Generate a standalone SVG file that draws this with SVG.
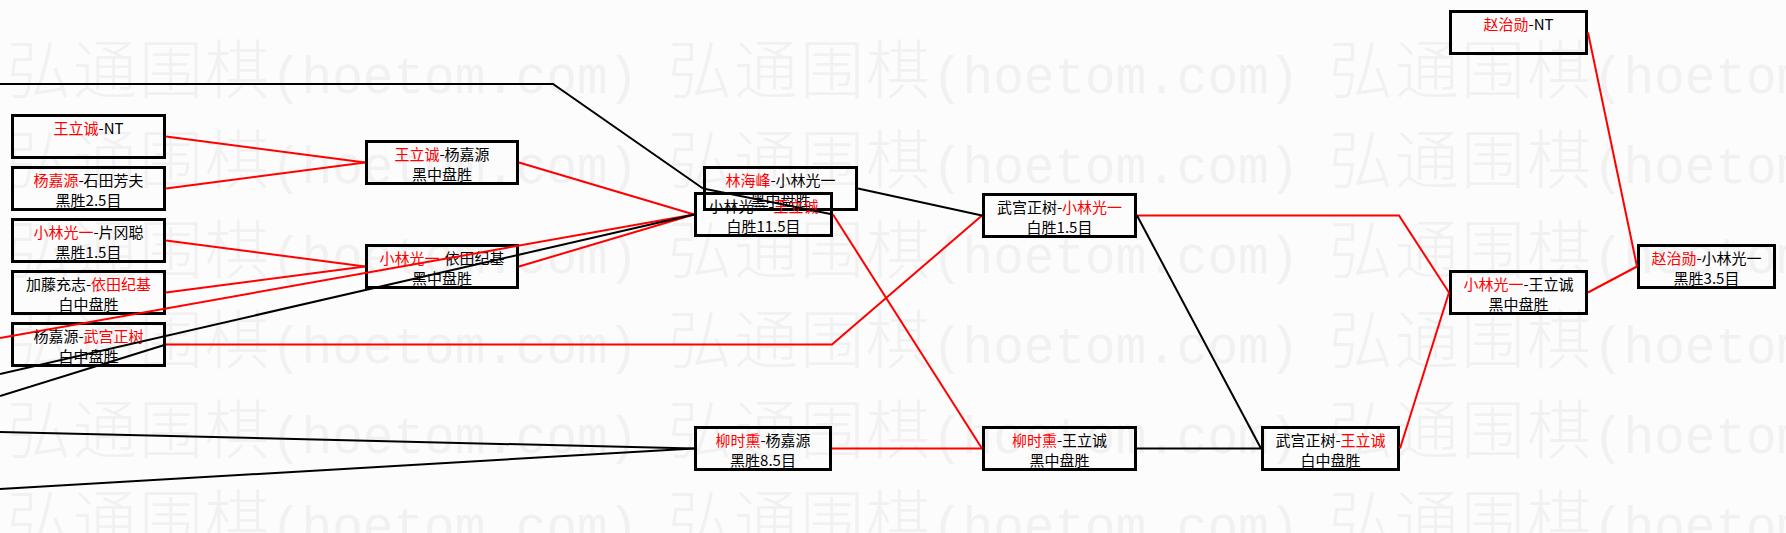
<svg xmlns="http://www.w3.org/2000/svg" xmlns:xlink="http://www.w3.org/1999/xlink" width="1786" height="533" viewBox="0 0 1786 533">
<style>
.bg{fill:#fcfcfc}
.wc{font-family:"Noto Sans CJK SC","Noto Sans CJK JP",sans-serif;font-size:64px;font-weight:300;letter-spacing:2px;fill:#f1f1f1}
.wl{font-family:"Liberation Mono",monospace;font-size:51px;fill:#f1f1f1}
.box{fill:none;stroke:#000;stroke-width:3}
.t{font-family:"Noto Sans CJK SC","Noto Sans CJK JP",sans-serif;font-size:15px;text-anchor:middle;fill:#000}
.r{fill:#f00}
.lr{fill:none;stroke:#f00;stroke-width:2}
.lb{fill:none;stroke:#000;stroke-width:2}
</style>
<defs>
<g id="wm"><text class="wc" x="0" y="0">弘通围棋</text><text class="wl" x="264" y="0">(hoetom.com)</text></g>
</defs>
<rect class="bg" x="0" y="0" width="1786" height="533"/>
<g id="watermark">
<use xlink:href="#wm" x="7" y="93"/><use xlink:href="#wm" x="668" y="93"/><use xlink:href="#wm" x="1329" y="93"/>
<use xlink:href="#wm" x="7" y="183"/><use xlink:href="#wm" x="668" y="183"/><use xlink:href="#wm" x="1329" y="183"/>
<use xlink:href="#wm" x="7" y="273"/><use xlink:href="#wm" x="668" y="273"/><use xlink:href="#wm" x="1329" y="273"/>
<use xlink:href="#wm" x="7" y="363"/><use xlink:href="#wm" x="668" y="363"/><use xlink:href="#wm" x="1329" y="363"/>
<use xlink:href="#wm" x="7" y="453"/><use xlink:href="#wm" x="668" y="453"/><use xlink:href="#wm" x="1329" y="453"/>
<use xlink:href="#wm" x="7" y="543"/><use xlink:href="#wm" x="668" y="543"/><use xlink:href="#wm" x="1329" y="543"/>
</g>
<g id="n1"><rect class="box" x="12.5" y="115.5" width="152" height="42"/><text class="t" x="88.5" y="134"><tspan class="r">王立诚</tspan>-NT</text></g>
<g id="n2"><rect class="box" x="12.5" y="167.5" width="152" height="42"/><text class="t" x="88.5" y="186"><tspan class="r">杨嘉源</tspan>-石田芳夫</text><text class="t" x="88.5" y="206">黑胜2.5目</text></g>
<g id="n3"><rect class="box" x="12.5" y="219.5" width="152" height="42"/><text class="t" x="88.5" y="238"><tspan class="r">小林光一</tspan>-片冈聪</text><text class="t" x="88.5" y="258">黑胜1.5目</text></g>
<g id="n4"><rect class="box" x="12.5" y="271.5" width="152" height="42"/><text class="t" x="88.5" y="290">加藤充志-<tspan class="r">依田纪基</tspan></text><text class="t" x="88.5" y="310">白中盘胜</text></g>
<g id="n5"><rect class="box" x="12.5" y="323.5" width="152" height="42"/><text class="t" x="88.5" y="342">杨嘉源-<tspan class="r">武宫正树</tspan></text><text class="t" x="88.5" y="362">白中盘胜</text></g>
<g id="n6"><rect class="box" x="366.5" y="141.5" width="151" height="42"/><text class="t" x="442" y="160"><tspan class="r">王立诚</tspan>-杨嘉源</text><text class="t" x="442" y="180">黑中盘胜</text></g>
<g id="n7"><rect class="box" x="366.5" y="245.5" width="151" height="42"/><text class="t" x="442" y="264"><tspan class="r">小林光一</tspan>-依田纪基</text><text class="t" x="442" y="284">黑中盘胜</text></g>
<g id="n8"><rect class="box" x="704.5" y="167.5" width="152" height="42"/><text class="t" x="780.5" y="186"><tspan class="r">林海峰</tspan>-小林光一</text><text class="t" x="780.5" y="206">黑中盘胜</text></g>
<g id="n9"><rect class="box" x="695.5" y="193.5" width="136" height="42"/><text class="t" x="763.5" y="212">小林光一-<tspan class="r">王立诚</tspan></text><text class="t" x="763.5" y="232">白胜11.5目</text></g>
<g id="n10"><rect class="box" x="695.5" y="427.5" width="135" height="42"/><text class="t" x="763" y="446"><tspan class="r">柳时熏</tspan>-杨嘉源</text><text class="t" x="763" y="466">黑胜8.5目</text></g>
<g id="n11"><rect class="box" x="983.5" y="194.5" width="152" height="42"/><text class="t" x="1059.5" y="213">武宫正树-<tspan class="r">小林光一</tspan></text><text class="t" x="1059.5" y="233">白胜1.5目</text></g>
<g id="n12"><rect class="box" x="983.5" y="427.5" width="152" height="42"/><text class="t" x="1059.5" y="446"><tspan class="r">柳时熏</tspan>-王立诚</text><text class="t" x="1059.5" y="466">黑中盘胜</text></g>
<g id="n13"><rect class="box" x="1262.5" y="427.5" width="136" height="42"/><text class="t" x="1330.5" y="446">武宫正树-<tspan class="r">王立诚</tspan></text><text class="t" x="1330.5" y="466">白中盘胜</text></g>
<g id="n14"><rect class="box" x="1450.5" y="271.5" width="136" height="42"/><text class="t" x="1518.5" y="290"><tspan class="r">小林光一</tspan>-王立诚</text><text class="t" x="1518.5" y="310">黑中盘胜</text></g>
<g id="n15"><rect class="box" x="1450.5" y="11.5" width="136" height="42"/><text class="t" x="1518.5" y="30"><tspan class="r">赵治勋</tspan>-NT</text></g>
<g id="n16"><rect class="box" x="1638.5" y="245.5" width="136" height="42"/><text class="t" x="1706.5" y="264"><tspan class="r">赵治勋</tspan>-小林光一</text><text class="t" x="1706.5" y="284">黑胜3.5目</text></g>
<g id="connectors">
<path class="lr" d="M166,136.5 L365,162.5"/>
<path class="lr" d="M166,188.5 L365,162.5"/>
<path class="lr" d="M166,240.5 L365,266.5"/>
<path class="lr" d="M166,292.5 L365,266.5"/>
<path class="lr" d="M0,338 L694,214.5"/>
<path class="lr" d="M519,162.5 L694,214.5"/>
<path class="lr" d="M519,266.5 L694,214.5"/>
<path class="lr" d="M166,344.5 L832,344.5 L982,215.5"/>
<path class="lr" d="M833,214.5 L982,448.5"/>
<path class="lr" d="M832,448.5 L982,448.5"/>
<path class="lr" d="M1137,215.5 L1399,215.5 L1449,292.5"/>
<path class="lr" d="M1400,448.5 L1449,292.5"/>
<path class="lr" d="M1588,32.5 L1637,266.5"/>
<path class="lr" d="M1588,292.5 L1637,266.5"/>
<path class="lb" d="M0,84 L553,84 L703,188.5"/>
<path class="lb" d="M833,214.5 L703,188.5"/>
<path class="lb" d="M858,188.5 L982,215.5"/>
<path class="lb" d="M0,374 L694,214.5"/>
<path class="lb" d="M0,396 L166,344.5"/>
<path class="lb" d="M0,432 L694,448.5"/>
<path class="lb" d="M0,489 L694,448.5"/>
<path class="lb" d="M1137,215.5 L1261,448.5"/>
<path class="lb" d="M1137,448.5 L1261,448.5"/>
</g>
</svg>
